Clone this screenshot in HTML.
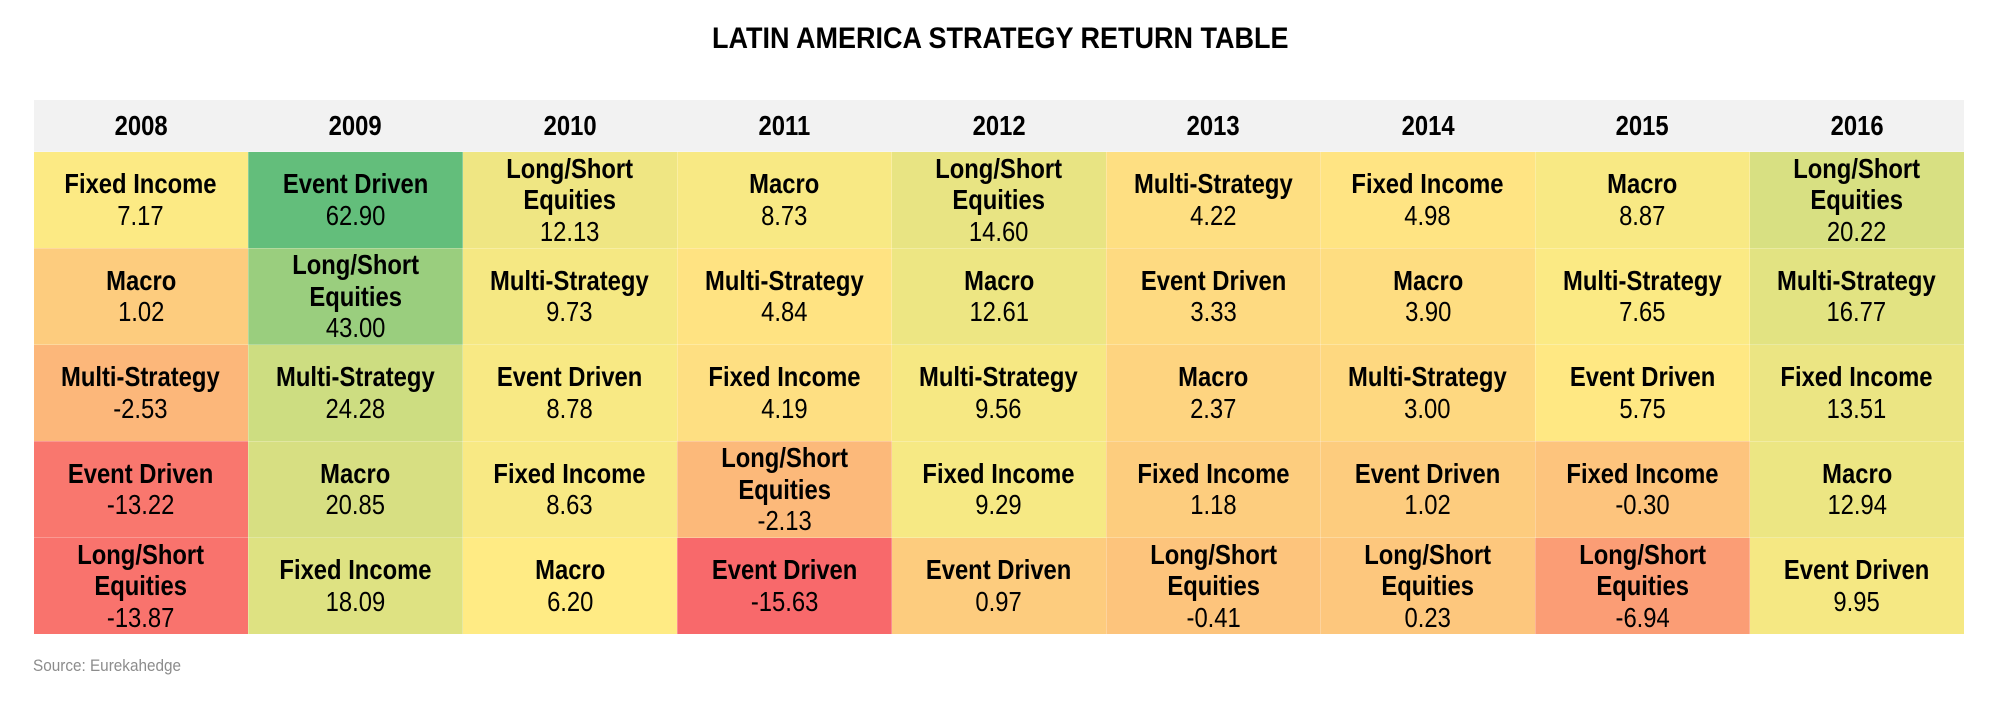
<!DOCTYPE html>
<html><head><meta charset="utf-8">
<style>
body{margin:0;width:2000px;height:702px;background:#fff;font-family:"Liberation Sans",sans-serif;position:relative;overflow:hidden}
#title{position:absolute;top:22px;left:0;width:2000px;text-align:center;font-weight:bold;font-size:30px;color:#000}
#title span{display:inline-block;transform:scaleX(0.9)}
table{position:absolute;left:33px;top:100px;border-collapse:collapse;table-layout:fixed;width:1931px}
td,th{width:214.5px;text-align:center;padding:0;color:#000}
th{height:51px;background:#f2f2f2;font-size:28px;font-weight:bold}
th span,td span{display:inline-block;transform:scaleX(0.85);white-space:nowrap}
td{height:95.5px;font-size:28px;line-height:31.5px;border:1px solid rgba(255,255,255,0.25)}
td b{display:block}
#src{position:absolute;left:33px;top:656px;font-size:17px;color:#8c8c8c}
#src span{display:inline-block;transform:scaleX(0.9);transform-origin:left}
</style></head><body>
<div id="title"><span>LATIN AMERICA STRATEGY RETURN TABLE</span></div>
<table id="t"><tr><th><span>2008</span></th><th><span>2009</span></th><th><span>2010</span></th><th><span>2011</span></th><th><span>2012</span></th><th><span>2013</span></th><th><span>2014</span></th><th><span>2015</span></th><th><span>2016</span></th></tr></table>
<div id="src"><span>Source: Eurekahedge</span></div>
<script>
var F="Fixed Income",E="Event Driven",M="Macro",S="Multi-Strategy",L="Long/Short<br>Equities";
var cols=[
[[F,7.17],[M,1.02],[S,-2.53],[E,-13.22],[L,-13.87]],
[[E,62.90],[L,43.00],[S,24.28],[M,20.85],[F,18.09]],
[[L,12.13],[S,9.73],[E,8.78],[F,8.63],[M,6.20]],
[[M,8.73],[S,4.84],[F,4.19],[L,-2.13],[E,-15.63]],
[[L,14.60],[M,12.61],[S,9.56],[F,9.29],[E,0.97]],
[[S,4.22],[E,3.33],[M,2.37],[F,1.18],[L,-0.41]],
[[F,4.98],[M,3.90],[S,3.00],[E,1.02],[L,0.23]],
[[M,8.87],[S,7.65],[E,5.75],[F,-0.30],[L,-6.94]],
[[L,20.22],[S,16.77],[F,13.51],[M,12.94],[E,9.95]]];
var mn=-15.63,md=6.2,mx=62.9;
function col(v){var a,b,t;
if(v<=md){t=(v-mn)/(md-mn);a=[248,105,107];b=[255,235,132];}
else{t=(v-md)/(mx-md);a=[255,235,132];b=[99,190,123];}
return "rgb("+a.map(function(x,i){return Math.round(x+(b[i]-x)*t)}).join(",")+")";}
var h="";
for(var r=0;r<5;r++){h+="<tr>";for(var c=0;c<9;c++){var d=cols[c][r];
h+='<td style="background:'+col(d[1])+'"><span><b>'+d[0]+'</b>'+d[1].toFixed(2)+'</span></td>';}h+="</tr>";}
document.getElementById("t").insertAdjacentHTML("beforeend",h);
</script>
</body></html>
